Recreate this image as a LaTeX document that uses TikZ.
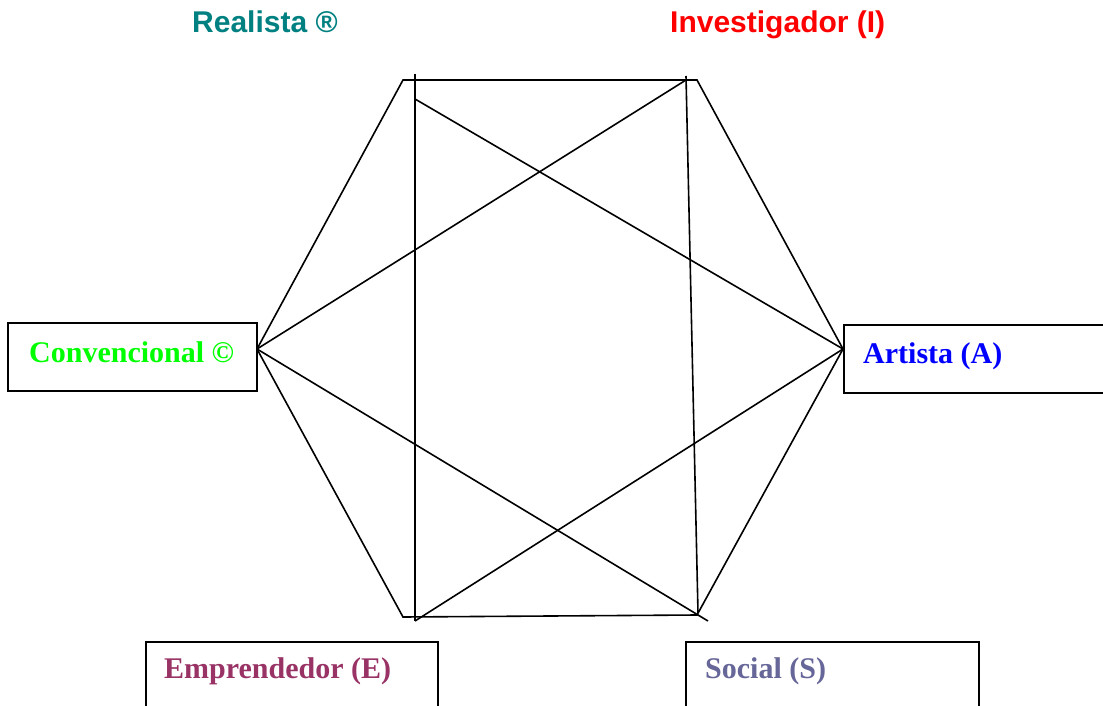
\documentclass[tikz,border=0pt]{standalone}
\usepackage{fontspec}
\setmainfont{Liberation Serif}
\setsansfont{Liberation Sans}
\definecolor{cgreen}{HTML}{00FF00}
\definecolor{cblue}{HTML}{0000FF}
\definecolor{cmaroon}{HTML}{993366}
\definecolor{cslate}{HTML}{666699}
\definecolor{cteal}{HTML}{008080}
\definecolor{cred}{HTML}{FF0000}
\begin{document}
\begin{tikzpicture}[x=1pt,y=-1pt,
  edge/.style={line width=1.6pt,black},
  box/.style={draw=black,line width=2pt,fill=white,inner sep=0pt},
  boxlabel/.style={font=\fontsize{30}{32}\selectfont\bfseries,anchor=base west,inner sep=0pt},
  toplabel/.style={font=\sffamily\fontsize{30}{32}\selectfont\bfseries,anchor=base west,inner sep=0pt}]
\useasboundingbox (0,0) rectangle (1103,706);
% boxes
\node[box,minimum width=249pt,minimum height=68pt] (cbox) at (132.5,357) {};
\node[box,minimum width=270pt,minimum height=68pt,anchor=north west] (abox) at (843,324) {};
\node[box,minimum width=292pt,minimum height=80pt,anchor=north west] (ebox) at (145,641) {};
\node[box,minimum width=293pt,minimum height=80pt,anchor=north west] (sbox) at (685,641) {};
% hexagon vertices
\coordinate (tl) at (403,80);
\coordinate (tr) at (697,80);
\coordinate (r) at (843,349);
\coordinate (br) at (697,615);
\coordinate (bl) at (403,617);
\coordinate (l) at (257,349);
% line ends
\coordinate (v1t) at (415,74);
\coordinate (v1b) at (415,621);
\coordinate (d1) at (415,99);
\coordinate (v2t) at (686,76);
\coordinate (v2b) at (698,613);
\coordinate (it) at (686,80);
\coordinate (ext) at (708,621);
\draw[edge,line join=miter] (tl) -- (tr) -- (r) -- (br) -- (bl) -- (l) -- cycle;
\draw[edge] (v1t) -- (v1b);
\draw[edge] (d1) -- (r);
\draw[edge] (l) -- (it);
\draw[edge] (v2t) -- (v2b);
\draw[edge] (l) -- (ext);
\draw[edge] (r) -- (v1b);
% labels
\node[toplabel,text=cteal] (real) at (192,33) {Realista ®};
\node[toplabel,text=cred] (inv) at (670,33) {Investigador (I)};
\node[boxlabel,text=cgreen] (conv) at (29,362) {Convencional ©};
\node[boxlabel,text=cblue] (art) at (863,363) {Artista (A)};
\node[boxlabel,text=cmaroon] (emp) at (164,678) {Emprendedor (E)};
\node[boxlabel,text=cslate] (soc) at (705,678) {Social (S)};
\end{tikzpicture}
\end{document}
